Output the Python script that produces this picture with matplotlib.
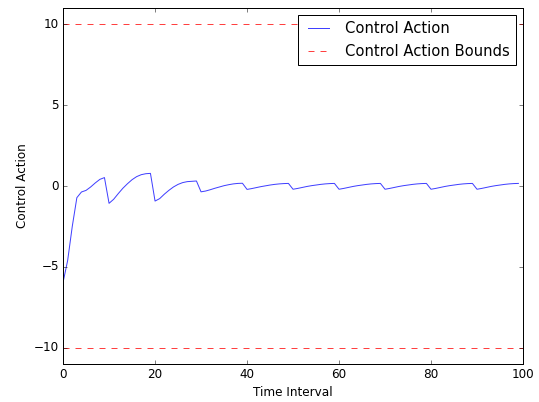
import matplotlib
matplotlib.use("Agg")
import matplotlib.pyplot as plt

plt.style.use("classic")

# control signal, one value per time step
time_steps = list(range(100))
control_action = [
    -5.95, -4.60, -2.50, -0.72, -0.37, -0.27, -0.06, 0.19, 0.41, 0.52,
    -1.07, -0.82, -0.47, -0.14, 0.14, 0.39, 0.58, 0.70, 0.76, 0.78,
    -0.93, -0.78, -0.51, -0.27, -0.06, 0.10, 0.21, 0.27, 0.29, 0.31,
    -0.36, -0.31, -0.23, -0.14, -0.06, 0.02, 0.08, 0.13, 0.16, 0.17,
    -0.21, -0.16, -0.10, -0.04, 0.01, 0.06, 0.10, 0.13, 0.15, 0.16,
    -0.20, -0.15, -0.09, -0.03, 0.02, 0.06, 0.10, 0.13, 0.15, 0.16,
    -0.20, -0.15, -0.09, -0.03, 0.02, 0.06, 0.10, 0.13, 0.15, 0.16,
    -0.20, -0.15, -0.09, -0.03, 0.02, 0.06, 0.10, 0.13, 0.15, 0.16,
    -0.20, -0.15, -0.09, -0.03, 0.02, 0.06, 0.10, 0.13, 0.15, 0.16,
    -0.20, -0.15, -0.09, -0.03, 0.02, 0.06, 0.10, 0.13, 0.15, 0.16,
]
upper_bound = 10
lower_bound = -10

fig = plt.figure(figsize=(539 / 72, 402 / 72), dpi=72)
ax = fig.add_axes([0.117, 0.0945, 0.8533, 0.8856])

ax.plot(time_steps, control_action, "b-", alpha=0.75, label="Control Action")
ax.plot([0, 100], [upper_bound, upper_bound], "r--", alpha=0.75,
        label="Control Action Bounds")
ax.plot([0, 100], [lower_bound, lower_bound], "r--", alpha=0.75)

ax.set_xlim(0, 100)
ax.set_ylim(-11, 11)
ax.set_yticks([-10, -5, 0, 5, 10])
ax.set_xlabel("Time Interval")
ax.set_ylabel("Control Action")
ax.legend(loc="upper right", fontsize=14.8)

fig.savefig("out.png", dpi=72)
